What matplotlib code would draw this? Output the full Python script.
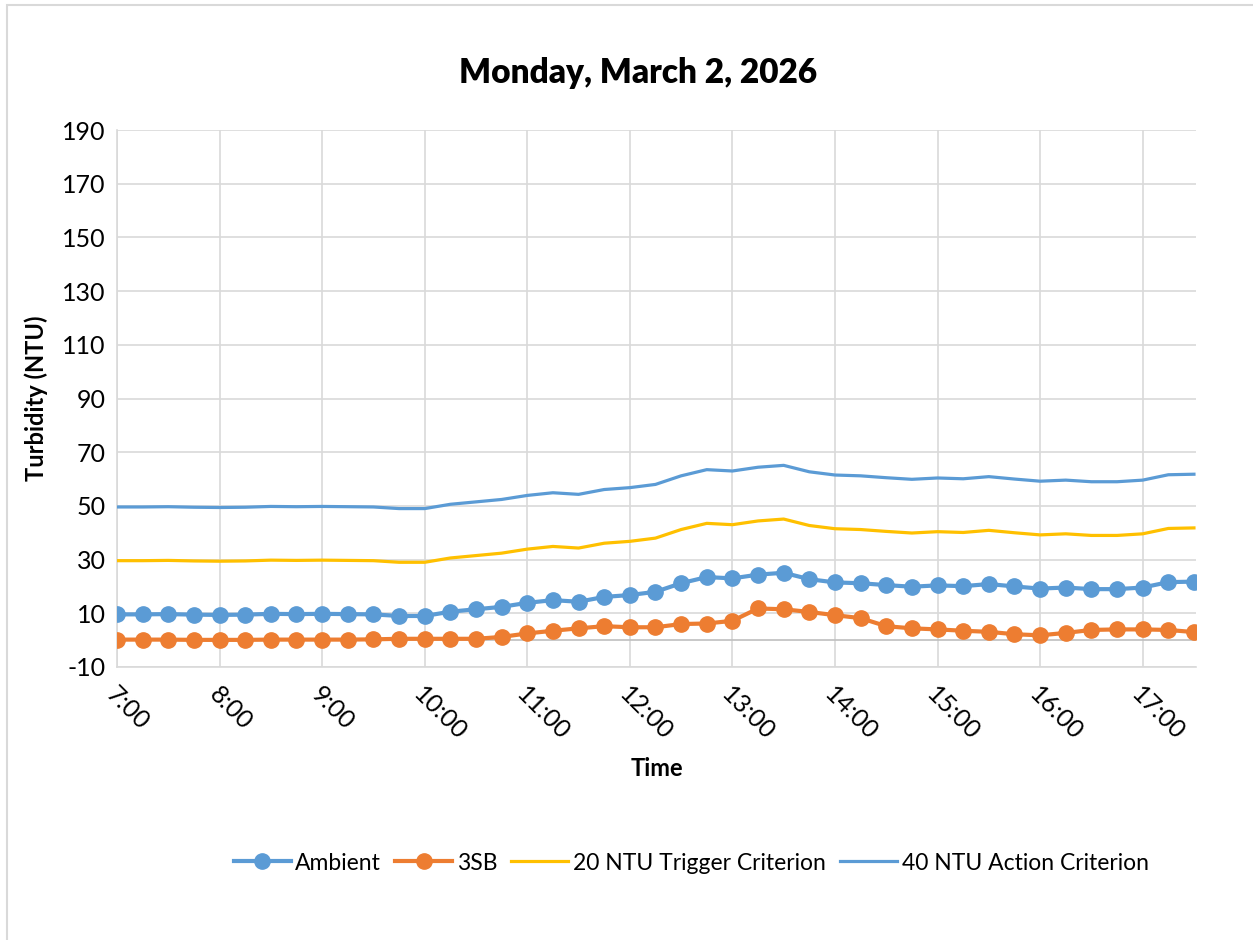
import matplotlib.pyplot as plt
from matplotlib.patches import Rectangle
from matplotlib.transforms import ScaledTranslation

plt.rcParams['font.family'] = ['Lato', 'DejaVu Sans']
plt.rcParams['axes.unicode_minus'] = False

# time in hours, every 15 minutes from 7:00 to 17:30
times = [7.0, 7.25, 7.5, 7.75, 8.0, 8.25, 8.5, 8.75, 9.0, 9.25, 9.5, 9.75,
         10.0, 10.25, 10.5, 10.75, 11.0, 11.25, 11.5, 11.75, 12.0, 12.25, 12.5, 12.75,
         13.0, 13.25, 13.5, 13.75, 14.0, 14.25, 14.5, 14.75, 15.0, 15.25, 15.5, 15.75,
         16.0, 16.25, 16.5, 16.75, 17.0, 17.25, 17.5]

ambient = [9.6, 9.6, 9.7, 9.5, 9.4, 9.5, 9.8, 9.7, 9.8, 9.7, 9.6, 9.0,
           9.0, 10.6, 11.5, 12.4, 13.9, 14.9, 14.3, 16.1, 16.8, 18.0, 21.2, 23.5,
           23.0, 24.4, 25.1, 22.7, 21.5, 21.2, 20.5, 19.9, 20.4, 20.1, 20.9, 20.0,
           19.2, 19.6, 19.0, 19.0, 19.6, 21.6, 21.8]

sb3 = [0.2, 0.2, 0.2, 0.1, 0.1, 0.1, 0.2, 0.2, 0.2, 0.2, 0.3, 0.5,
       0.5, 0.5, 0.5, 1.2, 2.5, 3.5, 4.4, 5.2, 4.8, 4.8, 6.0, 6.2,
       7.2, 11.8, 11.5, 10.5, 9.3, 8.2, 5.2, 4.4, 4.0, 3.5, 3.1, 2.2,
       1.8, 2.7, 3.8, 4.0, 4.0, 3.8, 3.0]

trigger = [29.6, 29.6, 29.7, 29.5, 29.4, 29.5, 29.8, 29.7, 29.8, 29.7, 29.6, 29.0,
           29.0, 30.6, 31.5, 32.4, 33.9, 34.9, 34.3, 36.1, 36.8, 38.0, 41.2, 43.5,
           43.0, 44.4, 45.1, 42.7, 41.5, 41.2, 40.5, 39.9, 40.4, 40.1, 40.9, 40.0,
           39.2, 39.6, 39.0, 39.0, 39.6, 41.6, 41.8]

action = [49.6, 49.6, 49.7, 49.5, 49.4, 49.5, 49.8, 49.7, 49.8, 49.7, 49.6, 49.0,
          49.0, 50.6, 51.5, 52.4, 53.9, 54.9, 54.3, 56.1, 56.8, 58.0, 61.2, 63.5,
          63.0, 64.4, 65.1, 62.7, 61.5, 61.2, 60.5, 59.9, 60.4, 60.1, 60.9, 60.0,
          59.2, 59.6, 59.0, 59.0, 59.6, 61.6, 61.8]

hour_ticks = [7, 8, 9, 10, 11, 12, 13, 14, 15, 16, 17]
hour_labels = ['7:00', '8:00', '9:00', '10:00', '11:00', '12:00', '13:00',
               '14:00', '15:00', '16:00', '17:00']
y_ticks = [-10, 10, 30, 50, 70, 90, 110, 130, 150, 170, 190]

blue = '#5B9BD5'
orange = '#ED7D31'
gold = '#FFC000'
grid = '#D9D9D9'

fig = plt.figure(figsize=(12.53, 9.40), dpi=100)
fig.patches.append(Rectangle((7 / 1253, -0.1), 1.2, 1.1 - 5 / 940,
                             transform=fig.transFigure, fill=False,
                             edgecolor='#D9D9D9', linewidth=1.5))
ax = fig.add_axes([117 / 1253, (940 - 667) / 940, (1196 - 117) / 1253, (667 - 130) / 940])

ax.plot(times, ambient, color=blue, lw=3, marker='o', ms=11, label='Ambient', zorder=4)
ax.plot(times, sb3, color=orange, lw=3, marker='o', ms=11, label='3SB', zorder=4)
ax.plot(times, trigger, color=gold, lw=2.3, label='20 NTU Trigger Criterion', zorder=3)
ax.plot(times, action, color=blue, lw=2.3, label='40 NTU Action Criterion', zorder=3)

ax.axhline(0, color='#BFBFBF', lw=1.2, zorder=2)

ax.set_xlim(7, 17.52)
ax.set_ylim(-10, 190)
ax.set_yticks(y_ticks)
ax.set_xticks(hour_ticks)
ax.set_xticklabels(hour_labels, rotation=-45, rotation_mode='anchor', ha='left', va='center')
ax.tick_params(axis='both', length=0, labelsize=18, colors='#000000')
ax.tick_params(axis='x', pad=17)
ax.tick_params(axis='y', pad=8)
shift = ScaledTranslation(-7 / 100, 0, fig.dpi_scale_trans)
for lab in ax.get_xticklabels():
    lab.set_transform(lab.get_transform() + shift)
ax.grid(True, color=grid, lw=1.2, zorder=0)
ax.set_axisbelow(True)
for s in ['top', 'right']:
    ax.spines[s].set_visible(False)
for s in ['left', 'bottom']:
    ax.spines[s].set_color(grid)
    ax.spines[s].set_linewidth(1.2)

ax.set_xlabel('Time', fontsize=17, fontweight='bold', labelpad=9)
ax.set_ylabel('Turbidity (NTU)', fontsize=17, fontweight='bold', labelpad=10)
fig.text(0.509, 1 - 73 / 940, 'Monday, March 2, 2026', fontsize=24, fontweight='heavy',
         ha='center', va='center')

fig.legend(loc='center', bbox_to_anchor=(0.5515, 1 - 863 / 940), ncol=4, frameon=False,
           fontsize=16.5, handlelength=2.5, columnspacing=0.6, handletextpad=0.2)

fig.savefig('out.png', dpi=100)
